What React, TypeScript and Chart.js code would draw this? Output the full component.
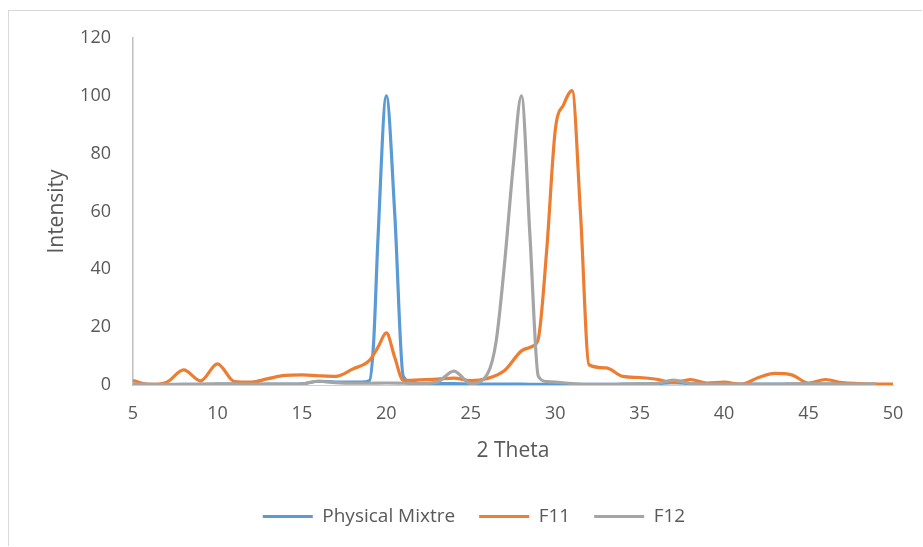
import React, { useEffect, useRef } from "react";
import { Chart, registerables } from "chart.js";

Chart.register(...registerables);

// ---- Data ----
const xTickMin = 5;
const xTickMax = 50;
const xTickStep = 5;
const yTickMin = 0;
const yTickMax = 120;
const yTickStep = 20;

const seriesNames = ["Physical Mixtre", "F11", "F12"];

const physicalX = [5, 6, 7, 8, 9, 10, 11, 12, 13, 14, 15, 16, 17, 18, 18.5, 19, 19.25, 19.5, 20, 20.5, 21, 21.5, 22, 23, 24, 25, 26, 27, 28, 29, 30, 31, 32, 33, 34, 35, 36, 37, 38, 39, 40, 41, 42, 43, 44, 45, 46, 47, 48, 49];
const physicalY = [0, 0, 0, 0.2, 0.2, 0.3, 0.3, 0.2, 0.3, 0.3, 0.4, 1.3, 1, 1, 1, 1.5, 15, 50, 100, 59, 3, 1, 0.5, 0.5, 0.5, 0.3, 0.3, 0.3, 0.3, 0.2, 0.2, 0.2, 0.2, 0.2, 0.3, 0.4, 0.5, 0.8, 0.5, 0.3, 0.3, 0.3, 0.3, 0.3, 0.3, 0.3, 0.3, 0.3, 0.3, 0.3];

const f11X = [5, 6, 7, 8, 9, 10, 11, 12, 13, 14, 15, 16, 17, 18, 19, 19.5, 20, 20.5, 21, 22, 23, 24, 25, 26, 27, 28, 28.7, 29, 29.5, 30, 30.5, 31, 31.5, 32, 33, 34, 35, 36, 37, 38, 39, 40, 41, 42, 43, 44, 45, 46, 47, 48, 49, 50];
const f11Y = [1.5, 0.2, 1, 5.2, 1.4, 7.3, 1.2, 1, 2.2, 3.3, 3.5, 3.2, 3, 5.5, 8.5, 13, 18, 9.5, 1.6, 1.8, 2, 2.4, 1.5, 2.3, 5, 11.8, 13.5, 16, 47, 88, 97, 101.8, 59, 7, 5.9, 3, 2.6, 2, 0.8, 1.9, 0.7, 1, 0.2, 2.5, 4, 3.5, 0.7, 1.9, 0.8, 0.5, 0.3, 0.3];

const f12X = [5, 6, 7, 8, 9, 10, 11, 12, 13, 14, 15, 16, 17, 18, 19, 20, 21, 22, 23, 24, 25, 26, 26.5, 27, 27.5, 28, 28.5, 29, 29.5, 30, 31, 32, 33, 34, 35, 36, 37, 38, 39, 40, 41, 42, 43, 44, 45, 46, 47, 48, 49];
const f12Y = [0.3, 0.3, 0.2, 0.2, 0.3, 0.4, 0.4, 0.3, 0.3, 0.3, 0.4, 1.3, 0.8, 0.6, 0.6, 0.7, 0.6, 0.5, 1.0, 4.8, 0.5, 4, 15, 42, 75, 100, 52, 3, 1.2, 1, 0.5, 0.2, 0.2, 0.3, 0.4, 0.5, 1.7, 0.5, 0.3, 0.3, 0.2, 0.2, 0.2, 0.4, 0.5, 0.4, 0.3, 0.3, 0.3];

const xTitle = "2 Theta";
const yTitle = "Intensity";

// ---- Styles ----
const W = 913;
const H = 535;
const FONT = "'Open Sans', sans-serif";
const TEXT = "#595959";
const colors = ["#5B9BD5", "#ED7D31", "#A5A5A5"];

const toPoints = (xs: number[], ys: number[]) => xs.map((x, i) => ({ x, y: ys[i] }));

const legendShift = {
  id: "legendShift",
  afterLayout(chart: any) {
    if (chart.legend) {
      chart.legend.left += 46;
    }
  },
};

export default function App() {
  const ref = useRef<HTMLCanvasElement>(null);

  useEffect(() => {
    if (!ref.current) return;
    const mk = (i: number, pts: { x: number; y: number }[]) => ({
      label: seriesNames[i],
      data: pts,
      borderColor: colors[i],
      backgroundColor: colors[i],
      borderWidth: 3.2,
      pointRadius: 0,
      pointHoverRadius: 0,
      fill: false,
      cubicInterpolationMode: "monotone" as const,
      order: 2 - i,
    });
    const chart = new Chart(ref.current, {
      type: "line",
      data: {
        datasets: [
          mk(0, toPoints(physicalX, physicalY)),
          mk(1, toPoints(f11X, f11Y)),
          mk(2, toPoints(f12X, f12Y)),
        ],
      },
      options: {
        animation: false,
        responsive: false,
        devicePixelRatio: 1,
        layout: { padding: { top: 27, right: 29, bottom: 10, left: 0 } },
        plugins: {
          tooltip: { enabled: false },
          legend: {
            position: "bottom",
            labels: {
              usePointStyle: true,
              pointStyle: "line",
              pointStyleWidth: 50,
              padding: 24,
              color: TEXT,
              font: { family: FONT, size: 19 },
              sort: (a: any, b: any) => a.datasetIndex - b.datasetIndex,
            },
          },
        },
        scales: {
          x: {
            type: "linear",
            min: xTickMin,
            max: xTickMax,
            afterFit: (s: any) => {
              s.height = 98;
            },
            ticks: {
              stepSize: xTickStep,
              autoSkip: false,
              maxRotation: 0,
              padding: 18,
              color: TEXT,
              font: { family: FONT, size: 18 },
            },
            grid: { display: false, drawTicks: false },
            border: { display: true, color: "#d0d0d0", width: 1 },
            title: {
              display: true,
              text: xTitle,
              color: TEXT,
              font: { family: FONT, size: 21 },
              padding: { top: 0, bottom: 19 },
            },
          },
          y: {
            min: yTickMin,
            max: yTickMax,
            afterFit: (s: any) => {
              s.width = 124;
            },
            ticks: {
              stepSize: yTickStep,
              padding: 0,
              color: TEXT,
              font: { family: FONT, size: 18 },
            },
            grid: { display: false, drawTicks: true, tickLength: 22 },
            border: { display: true, color: "#bfbfbf", width: 1.5 },
            title: {
              display: true,
              text: yTitle,
              color: TEXT,
              font: { family: FONT, size: 21 },
              padding: { top: 35, bottom: 0 },
            },
          },
        },
      },
      plugins: [legendShift],
    });
    return () => chart.destroy();
  }, []);

  return (
    <div
      style={{
        position: "absolute",
        left: 8,
        top: 10,
        borderTop: "1px solid #d9d9d9",
        borderLeft: "1px solid #d9d9d9",
        background: "#ffffff",
      }}
    >
      <canvas ref={ref} width={W} height={H} style={{ display: "block", width: W, height: H }} />
    </div>
  );
}
